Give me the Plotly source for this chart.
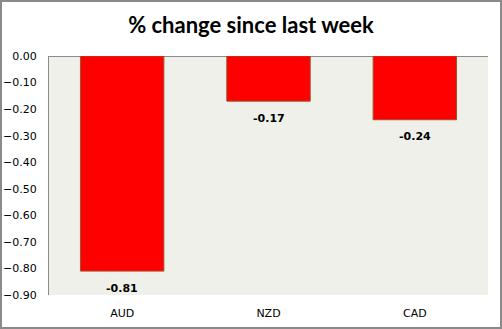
import plotly.graph_objects as go

# Weekly percentage change by currency
currencies = ["AUD", "NZD", "CAD"]
pct_change = [-0.81, -0.17, -0.24]
y_ticks = [0.0, -0.1, -0.2, -0.3, -0.4, -0.5, -0.6, -0.7, -0.8, -0.9]

W, H = 502, 329
ml, mr, mt, mb = 49, 14, 56, 34
pw, ph = W - ml - mr, H - mt - mb

fig = go.Figure(
    go.Bar(
        x=currencies,
        y=pct_change,
        marker=dict(color="#FF0000", line=dict(color="#A0522D", width=1)),
        width=0.57,
    )
)

# Value labels beneath each bar end
for cur, val in zip(currencies, pct_change):
    fig.add_annotation(
        x=cur,
        y=val,
        text=f"<b>{val:.2f}</b>",
        showarrow=False,
        yanchor="middle",
        yshift=-17,
        font=dict(family="DejaVu Sans", size=11, color="#000000"),
    )

# Outer frame of the chart area, expressed in paper units
fx0 = -(ml - 1) / pw
fx1 = 1 + (mr - 1) / pw
fy1 = 1 + (mt - 1) / ph
fy0 = -(mb - 1) / ph

fig.update_layout(
    width=W,
    height=H,
    margin=dict(l=ml, r=mr, t=mt, b=mb),
    paper_bgcolor="#FFFFFF",
    plot_bgcolor="#EEF0E9",
    showlegend=False,
    title=dict(
        text="<b>% change since last week</b>",
        x=0.5,
        xref="container",
        xanchor="center",
        y=1 - 25 / H,
        yanchor="middle",
        font=dict(family="Lato", size=22, color="#000000"),
    ),
    xaxis=dict(
        showgrid=False,
        showline=False,
        ticks="",
        automargin=False,
        ticklabelstandoff=10,
        tickfont=dict(family="DejaVu Sans", size=11, color="#000000"),
    ),
    yaxis=dict(
        range=[-0.9, 0],
        tickvals=y_ticks,
        tickformat=".2f",
        showgrid=False,
        showline=True,
        linecolor="#8C8C8C",
        linewidth=1,
        zeroline=True,
        zerolinecolor="#8C8C8C",
        zerolinewidth=1,
        ticks="",
        automargin=False,
        ticklabelstandoff=9,
        tickfont=dict(family="DejaVu Sans", size=11, color="#000000"),
    ),
    shapes=[
        dict(
            type="rect",
            xref="paper",
            yref="paper",
            x0=fx0,
            x1=fx1,
            y0=fy0,
            y1=fy1,
            line=dict(color="#8A8A8A", width=2),
            layer="above",
        )
    ],
)

fig.write_html("out.html")
